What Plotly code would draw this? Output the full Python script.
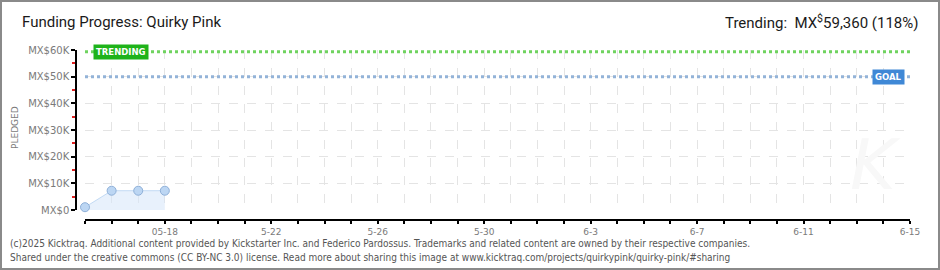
import plotly.graph_objects as go

# ---- data ----
dates = ["2025-05-15", "2025-05-16", "2025-05-17", "2025-05-18"]
pledged = [1050, 7230, 7230, 7230]
goal = 50000
trending = 59360
range_start = "2025-05-15"
range_end = "2025-06-15"
label_dates = ["2025-05-18", "2025-05-22", "2025-05-26", "2025-05-30",
               "2025-06-03", "2025-06-07", "2025-06-11", "2025-06-15"]
label_text = ["05-18", "5-22", "5-26", "5-30", "6-3", "6-7", "6-11", "6-15"]
y_ticks = [0, 10000, 20000, 30000, 40000, 50000, 60000]
y_text = ["MX$0", "MX$10K", "MX$20K", "MX$30K", "MX$40K", "MX$50K", "MX$60K"]

title = "Funding Progress: Quirky Pink"
trend_text = "Trending:  MX<sup>$</sup>59,360 (118%)"
footer1 = ("(c)2025 Kicktraq. Additional content provided by Kickstarter Inc. and Federico Pardossus. "
           "Trademarks and related content are owned by their respective companies.")
footer2 = ("Shared under the creative commons (CC BY-NC 3.0) license. Read more about sharing this image at "
           "www.kicktraq.com/projects/quirkypink/quirky-pink/#sharing")

# ---- layout geometry (pixels) ----
W, H = 940, 270
L, R, T, B = 76, 30, 50, 50
PW, PH = W - L - R, H - T - B
DAY_MS = 86400000

fig = go.Figure()

# pledged area
fig.add_trace(go.Scatter(
    x=dates, y=pledged, mode="lines+markers", cliponaxis=False,
    line=dict(color="#c2daf4", width=1),
    fill="tozeroy", fillcolor="rgba(214,230,249,0.55)",
    marker=dict(size=9, color="#bcd6f3", line=dict(color="#8fb0d8", width=1)),
    showlegend=False, hoverinfo="skip"))

# goal line
fig.add_trace(go.Scatter(
    x=[range_start, range_end], y=[goal, goal], mode="lines", cliponaxis=False,
    line=dict(color="#93b3d8", width=3, dash="dot"),
    showlegend=False, hoverinfo="skip"))

# trending line
fig.add_trace(go.Scatter(
    x=[range_start, range_end], y=[trending, trending], mode="lines", cliponaxis=False,
    line=dict(color="#6fd35f", width=3, dash="dot"),
    showlegend=False, hoverinfo="skip"))

axis_font = dict(family="DejaVu Sans", size=9, color="#7a7a7a")

fig.update_layout(
    width=W, height=H,
    margin=dict(l=L, r=R, t=T, b=B),
    paper_bgcolor="white", plot_bgcolor="white",
    xaxis=dict(
        type="date", range=[range_start, range_end],
        domain=[9 / PW, 1], anchor="free", position=0,
        tickvals=label_dates, ticktext=label_text,
        showgrid=True, gridcolor="#e4e4e4", griddash="dash", gridwidth=1,
        showline=True, linecolor="black", linewidth=1.5,
        ticks="outside", ticklen=3, tickcolor="black", tickwidth=1.5,
        minor=dict(dtick=DAY_MS, tick0=range_start, ticks="outside", ticklen=3,
                   tickcolor="black", tickwidth=1.5, showgrid=True,
                   gridcolor="#e4e4e4", griddash="dash", gridwidth=1),
        tickfont=axis_font, zeroline=False, fixedrange=True),
    yaxis=dict(
        range=[0, 60000], domain=[10 / PH, 1], anchor="free", position=0,
        tickvals=y_ticks, ticktext=y_text,
        showgrid=True, gridcolor="#e4e4e4", griddash="dash", gridwidth=1,
        showline=True, linecolor="black", linewidth=1.5,
        ticks="outside", ticklen=4, tickcolor="black", tickwidth=1.5,
        minor=dict(dtick=5000, tick0=0, ticks="outside", ticklen=3,
                   tickcolor="#e02020", tickwidth=1.5, showgrid=False),
        tickfont=dict(family="DejaVu Sans", size=10, color="#7a7a7a"),
        zeroline=False, fixedrange=True),
)

# title and trending text
fig.add_annotation(xref="paper", yref="paper", x=(20 - L) / PW, y=(H - B - 22) / PH,
                   xanchor="left", yanchor="middle", showarrow=False,
                   text=title, font=dict(family="Roboto", size=15, color="#1a1a1a"))
fig.add_annotation(xref="paper", yref="paper", x=(920 - L) / PW, y=(H - B - 22) / PH,
                   xanchor="right", yanchor="middle", showarrow=False,
                   text=trend_text, font=dict(family="Roboto", size=15, color="#1a1a1a"))

# y axis title
fig.add_annotation(xref="paper", yref="paper", x=(15 - L) / PW, y=(H - B - 128) / PH,
                   xanchor="center", yanchor="middle", showarrow=False, textangle=-90,
                   text="PLEDGED", font=dict(family="DejaVu Sans", size=9, color="#7a7a7a"))

# line labels
fig.add_annotation(x=range_start, y=trending, xanchor="left", yanchor="middle",
                   xshift=8, showarrow=False, text="<b>TRENDING</b>",
                   font=dict(family="DejaVu Sans", size=8.5, color="white"),
                   bgcolor="#1fb31a", borderpad=2)
fig.add_annotation(x=range_end, y=goal, xanchor="right", yanchor="middle",
                   xshift=-5, showarrow=False, text="<b>GOAL</b>",
                   font=dict(family="DejaVu Sans", size=8.5, color="white"),
                   bgcolor="#3f88d6", borderpad=2)

# faint watermark
fig.add_annotation(xref="paper", yref="paper", x=(875 - L) / PW, y=(H - B - 165) / PH,
                   xanchor="center", yanchor="middle", showarrow=False,
                   text="<i>K</i>", font=dict(family="DejaVu Sans", size=70, color="#f8f8f8"))

# footer
fig.add_annotation(xref="paper", yref="paper", x=(8 - L) / PW, y=(H - B - 243) / PH,
                   xanchor="left", yanchor="middle", showarrow=False,
                   text=footer1, font=dict(family="DejaVu Sans Condensed", size=10, color="#555"))
fig.add_annotation(xref="paper", yref="paper", x=(8 - L) / PW, y=(H - B - 257) / PH,
                   xanchor="left", yanchor="middle", showarrow=False,
                   text=footer2, font=dict(family="DejaVu Sans Condensed", size=10, color="#555"))

# frame
fig.add_shape(type="rect", xref="paper", yref="paper",
              x0=(1 - L) / PW, x1=(939 - L) / PW, y0=(H - B - 269) / PH, y1=(H - B - 1) / PH,
              line=dict(color="#8a8a8a", width=2), layer="below")

fig.write_html("out.html", config={"displayModeBar": False})
